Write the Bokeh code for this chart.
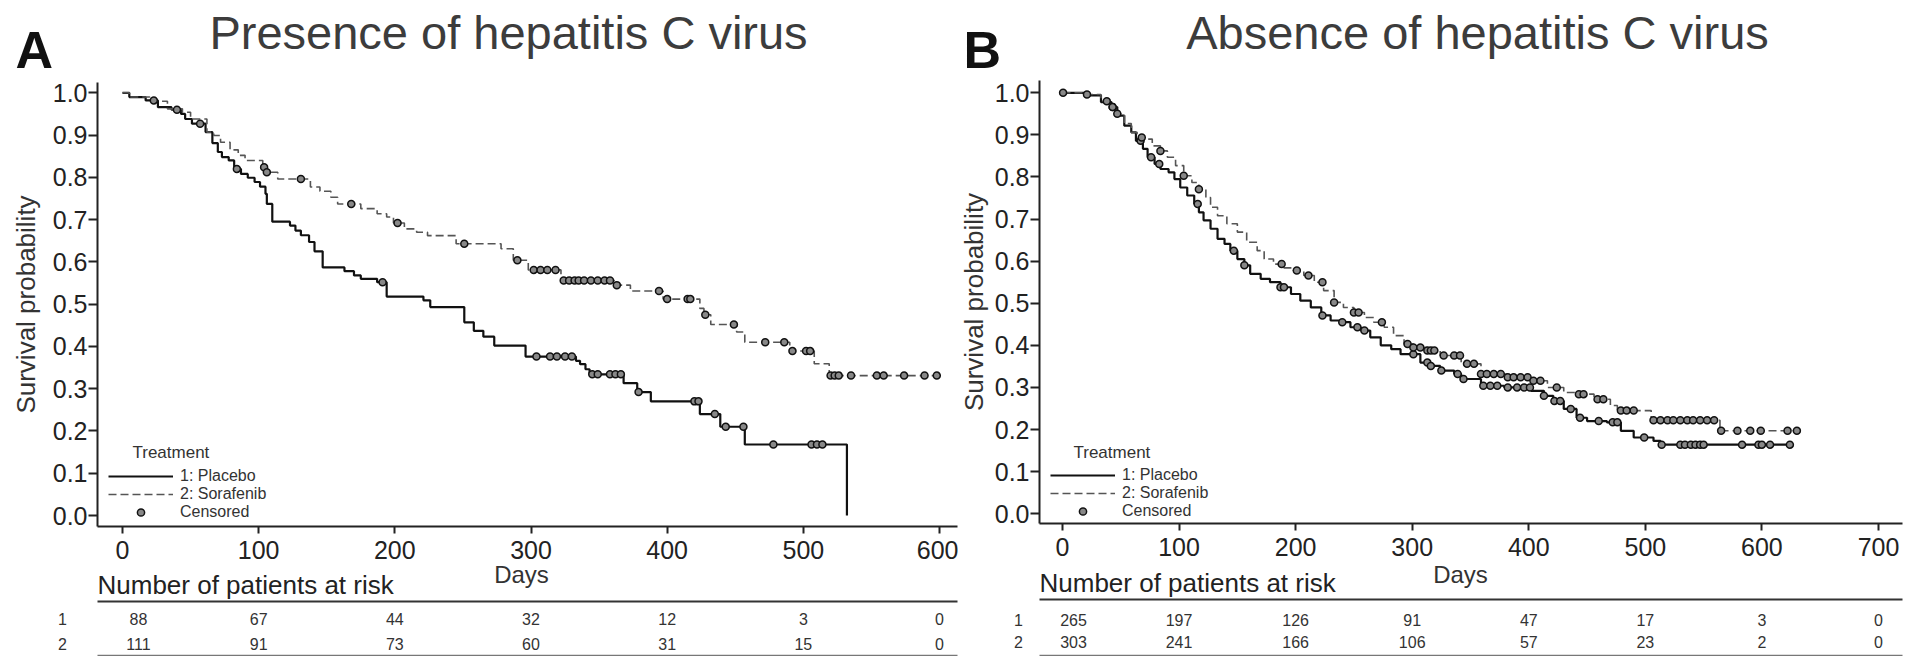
import numpy as np
from bokeh.plotting import figure
from bokeh.layouts import row
from bokeh.models import Range1d, FixedTicker, PrintfTickFormatter, Legend, LegendItem
from bokeh.core.properties import value
from bokeh.embed import file_html
from bokeh.resources import INLINE

FONT = "Liberation Sans"

# ---------------- data ----------------
titles = ["Presence of hepatitis C virus", "Absence of hepatitis C virus"]
letters = ["A", "B"]
x_label = "Days"
y_label = "Survival probability"
legend_title = "Treatment"
legend_labels = ["1: Placebo", "2: Sorafenib", "Censored"]
risk_header = "Number of patients at risk"
row_labels = ["1", "2"]

ticks_a = [0, 100, 200, 300, 400, 500, 600]
risk_a_placebo = [88, 67, 44, 32, 12, 3, 0]
risk_a_sorafenib = [111, 91, 73, 60, 31, 15, 0]

ticks_b = [0, 100, 200, 300, 400, 500, 600, 700]
risk_b_placebo = [265, 197, 126, 91, 47, 17, 3, 0]
risk_b_sorafenib = [303, 241, 166, 106, 57, 23, 2, 0]

y_ticks = [0.0, 0.1, 0.2, 0.3, 0.4, 0.5, 0.6, 0.7, 0.8, 0.9, 1.0]

# Panel A, placebo: event times (days) and survival after each event
a_placebo_t = [0, 5, 17, 26, 36, 43, 46, 51, 61, 66, 70, 73, 78, 82, 87, 92, 97, 101, 105, 106,
               110, 123, 127, 131, 137, 141, 147, 163, 170, 175, 187, 194, 221, 226, 251, 258, 265, 273, 296, 333,
               336, 340, 343, 368, 378, 388, 424, 439, 457, 532]
a_placebo_s = [1.0, 0.990, 0.982, 0.966, 0.960, 0.950, 0.938, 0.927, 0.907, 0.881, 0.860, 0.848, 0.840, 0.820, 0.808, 0.799, 0.789, 0.778, 0.761, 0.737,
               0.695, 0.686, 0.674, 0.663, 0.647, 0.625, 0.587, 0.578, 0.568, 0.560, 0.552, 0.518, 0.509, 0.493, 0.457, 0.437, 0.423, 0.402, 0.376, 0.366,
               0.358, 0.346, 0.334, 0.313, 0.292, 0.270, 0.240, 0.210, 0.168, 0.0]
a_placebo_end = 532
a_placebo_cens = [23, 40, 57, 84, 191, 304, 314, 319, 325, 330, 345, 349, 358, 362, 366, 379, 420, 423,
                  435, 443, 456, 478, 506, 510, 514]

# Panel A, sorafenib
a_sorafenib_t = [0, 5, 20, 33, 44, 50, 62, 67, 72, 79, 85, 90, 103, 105, 114, 138, 145, 153, 158, 175,
                 187, 194, 199, 207, 216, 224, 245, 278, 287, 298, 322, 362, 373, 397, 424, 427, 432, 451, 457, 490,
                 508, 519]
a_sorafenib_s = [1.0, 0.99, 0.98, 0.962, 0.954, 0.938, 0.907, 0.899, 0.883, 0.865, 0.852, 0.840, 0.824, 0.812, 0.796, 0.777, 0.767, 0.753, 0.737, 0.726,
                 0.714, 0.706, 0.692, 0.678, 0.670, 0.662, 0.643, 0.631, 0.604, 0.581, 0.556, 0.545, 0.531, 0.512, 0.49, 0.475, 0.452, 0.434, 0.41, 0.389,
                 0.359, 0.331]
a_sorafenib_end = 598
a_sorafenib_cens = [104, 106, 131, 168, 202, 251, 290, 302, 307, 312, 318, 324, 328, 332, 335, 339, 344, 349, 354, 358,
                    363, 394, 400, 415, 417, 428, 449, 472, 486, 492, 502, 505, 520, 523, 526, 535, 554, 559, 574, 589, 598]

# Panel B, placebo
b_placebo_t = [0, 21, 33, 42, 47, 53, 59, 63, 69, 73, 79, 84, 91, 96, 101, 107, 113, 117, 121, 127,
               133, 139, 144, 150, 156, 161, 170, 178, 187, 196, 204, 213, 222, 230, 239, 247, 256, 264, 273, 282,
               290, 307, 316, 324, 336, 342, 359, 379, 402, 413, 421, 430, 441, 450, 467, 479, 490, 507, 513]
b_placebo_s = [1.0, 0.994, 0.978, 0.966, 0.946, 0.922, 0.906, 0.886, 0.867, 0.847, 0.831, 0.819, 0.811, 0.795, 0.775, 0.756, 0.736, 0.716, 0.697, 0.677,
               0.653, 0.641, 0.625, 0.605, 0.59, 0.57, 0.558, 0.55, 0.538, 0.522, 0.506, 0.49, 0.471, 0.459, 0.455, 0.443, 0.435, 0.419, 0.40, 0.391,
               0.379, 0.359, 0.351, 0.34, 0.332, 0.32, 0.304, 0.30, 0.292, 0.28, 0.268, 0.249, 0.228, 0.22, 0.217, 0.197, 0.181, 0.173, 0.164]
b_placebo_end = 624
b_placebo_cens = [43, 67, 76, 83, 116, 147, 156, 187, 190, 223, 240, 253, 259, 301, 313, 316, 325, 339, 344, 361,
                  367, 373, 382, 390, 396, 401, 413, 422, 427, 436, 444, 460, 472, 476, 499, 514, 530, 534, 539, 543,
                  547, 550, 583, 597, 600, 607, 624]

# Panel B, sorafenib
b_sorafenib_t = [0, 21, 33, 42, 47, 53, 59, 64, 70, 77, 84, 90, 97, 104, 111, 117, 123, 127, 133, 141,
                 150, 158, 167, 173, 181, 190, 198, 207, 216, 224, 233, 241, 250, 259, 267, 276, 284, 293, 301, 313,
                 324, 342, 359, 381, 404, 416, 430, 441, 456, 470, 476, 505, 564]
b_sorafenib_s = [1.0, 0.996, 0.98, 0.966, 0.95, 0.927, 0.906, 0.894, 0.89, 0.874, 0.862, 0.847, 0.827, 0.803, 0.787, 0.771, 0.751, 0.728, 0.708, 0.689,
                 0.669, 0.645, 0.625, 0.605, 0.593, 0.584, 0.578, 0.566, 0.55, 0.53, 0.502, 0.49, 0.478, 0.466, 0.455, 0.443, 0.423, 0.403, 0.395, 0.388,
                 0.376, 0.356, 0.332, 0.324, 0.316, 0.30, 0.288, 0.284, 0.272, 0.257, 0.245, 0.222, 0.197]
b_sorafenib_end = 630
b_sorafenib_cens = [0.5, 21, 38, 43, 47, 68, 84, 104, 117, 188, 201, 211, 223, 233, 250, 254, 274, 296, 301, 307,
                    313, 316, 319, 327, 336, 341, 347, 353, 359, 364, 370, 376, 382, 387, 393, 399, 404, 410, 424, 443,
                    447, 459, 464, 479, 484, 490, 507, 513, 519, 524, 530, 536, 541, 547, 553, 559, 565, 579, 590, 599,
                    622, 630]

# ---------------- layout geometry (page pixels) ----------------
PAGE_H = 656
MID = 0.3465   # 'middle' anchor sits this many font-sizes above the baseline

GEOM = {
    "A": dict(cx=0, w=958, fl=97, fr=957, ft=82, fb=526, x0=122.0, xs=1.3617, y0=515.0, ys=422.7,
              letter_x=15, title_cx=508, treat_x=132, days_cx=521, head_base=594, uline=601, rows=(618, 643),
              rowlab_x=62, first_off=16, legend_x=108, legend_bottom=521.3, ylab_standoff=9, bline=655),
    "B": dict(cx=958, w=959, fl=1039, fr=1902, ft=80, fb=523, x0=1062.0, xs=1.1657, y0=513.2, ys=420.9,
              letter_x=963, title_cx=1477, treat_x=1073, days_cx=1460, head_base=592, uline=599, rows=(619, 641),
              rowlab_x=1018, first_off=11, legend_x=1050, legend_bottom=520.3, ylab_standoff=3, bline=655),
}


def km_y(t, s, q):
    t = np.asarray(t, dtype=float)
    s = np.asarray(s, dtype=float)
    idx = np.searchsorted(t, np.asarray(q, dtype=float), side="right") - 1
    return s[idx]


def make_panel(key, title, letter, ticks, risk1, risk2, pl, so):
    g = GEOM[key]
    dx = lambda px: (px - g["x0"]) / g["xs"]
    dy = lambda py: (g["y0"] - py) / g["ys"]

    def txt(p, x_px, base_px, s, size, color="#333333", align="left", style="normal"):
        p.text(x=[dx(x_px)], y=[dy(base_px - MID * size)], text=[s],
               text_font=value(FONT), text_font_size=f"{size}px", text_font_style=style,
               text_color=color, text_align=align, text_baseline="middle")

    p = figure(width=g["w"], height=PAGE_H,
               x_range=Range1d(dx(g["cx"]), dx(g["cx"] + g["w"])),
               y_range=Range1d(dy(PAGE_H), dy(0)),
               min_border_left=0, min_border_right=0, min_border_top=0, min_border_bottom=0,
               output_backend="svg", toolbar_location=None)
    p.title.visible = False
    p.outline_line_color = None
    p.background_fill_color = "white"
    p.border_fill_color = "white"
    p.grid.visible = False

    # axes drawn at the reference frame edges
    p.xaxis.fixed_location = dy(g["fb"])
    p.xaxis.bounds = (dx(g["fl"]), dx(g["fr"]))
    p.yaxis.fixed_location = dx(g["fl"])
    p.yaxis.bounds = (dy(g["fb"]), dy(g["ft"]))
    p.xaxis.ticker = FixedTicker(ticks=ticks)
    p.yaxis.ticker = FixedTicker(ticks=y_ticks)
    p.yaxis.formatter = PrintfTickFormatter(format="%.1f")
    for ax in (p.xaxis[0], p.yaxis[0]):
        ax.axis_line_width = 2
        ax.axis_line_color = "#222222"
        ax.major_tick_line_width = 2
        ax.major_tick_line_color = "#222222"
        ax.minor_tick_line_color = None
        ax.major_tick_in = 0
        ax.major_label_text_font = FONT
        ax.major_label_text_font_size = "25px"
        ax.major_label_text_color = "#222222"
        ax.axis_label_text_font = FONT
        ax.axis_label_text_font_style = "normal"
        ax.axis_label_text_color = "#333333"
    p.xaxis.major_tick_out = 7
    p.xaxis.major_label_standoff = 7
    p.yaxis.major_tick_out = 9
    p.yaxis.major_label_standoff = 1
    p.yaxis.axis_label = y_label
    p.yaxis.axis_label_text_font_size = "26px"
    p.yaxis.axis_label_standoff = g["ylab_standoff"]

    # curves
    (pt, ps, pend, pc), (st, ss, send, sc) = pl, so
    r_pl = p.step(list(pt) + [pend], list(ps) + [ps[-1]], mode="after",
                  line_color="#111111", line_width=2.2)
    r_so = p.step(list(st) + [send], list(ss) + [ss[-1]], mode="after",
                  line_color="#555555", line_width=1.6, line_dash="8 4")
    r_c1 = p.scatter(pc, km_y(pt, ps, pc), marker="circle", size=7,
                     fill_color="#888888", line_color="#111111", line_width=1.5)
    p.scatter(sc, km_y(st, ss, sc), marker="circle", size=7,
              fill_color="#888888", line_color="#111111", line_width=1.5)

    legend = Legend(items=[LegendItem(label=legend_labels[0], renderers=[r_pl]),
                           LegendItem(label=legend_labels[1], renderers=[r_so]),
                           LegendItem(label=legend_labels[2], renderers=[r_c1])],
                    location=(g["legend_x"] - g["cx"], PAGE_H - g["legend_bottom"]),
                    orientation="vertical",
                    glyph_width=65, glyph_height=18, label_height=18, label_standoff=7,
                    spacing=0, padding=0, margin=0, border_line_color=None,
                    background_fill_alpha=0,
                    label_text_font=FONT, label_text_font_size="16px", label_text_color="#333333")
    p.add_layout(legend)
    txt(p, g["treat_x"], 458, legend_title, 17)

    # panel letter and title
    txt(p, g["letter_x"], 68, letter, 52, color="#111111", style="bold")
    txt(p, g["title_cx"], 48, title, 47, color="#3c3c3c", align="center")

    # x-axis title
    txt(p, g["days_cx"], 582, x_label, 24, align="center")

    # number-at-risk table
    txt(p, g["fl"], g["head_base"], risk_header, 26, color="#222222")
    p.segment(x0=[dx(g["fl"])], y0=[dy(g["uline"])], x1=[dx(g["fr"])], y1=[dy(g["uline"])],
              line_color="#333333", line_width=2)
    p.segment(x0=[dx(g["fl"])], y0=[dy(g["bline"])], x1=[dx(g["fr"])], y1=[dy(g["bline"])],
              line_color="#777777", line_width=1.5)
    for lab, ry, vals in zip(row_labels, g["rows"], (risk1, risk2)):
        p.text(x=[dx(g["rowlab_x"])], y=[dy(ry)], text=[lab], text_font=value(FONT), text_font_size="16px",
               text_color="#333333", text_align="center", text_baseline="middle")
        offs = [g["first_off"]] + [0] * (len(ticks) - 1)
        p.text(x=ticks, y=[dy(ry)] * len(ticks), text=[str(v) for v in vals], x_offset=offs,
               text_font=value(FONT), text_font_size="16px", text_color="#333333",
               text_align="center", text_baseline="middle")
    return p


pA = make_panel("A", titles[0], letters[0], ticks_a, risk_a_placebo, risk_a_sorafenib,
                (a_placebo_t, a_placebo_s, a_placebo_end, a_placebo_cens),
                (a_sorafenib_t, a_sorafenib_s, a_sorafenib_end, a_sorafenib_cens))
pB = make_panel("B", titles[1], letters[1], ticks_b, risk_b_placebo, risk_b_sorafenib,
                (b_placebo_t, b_placebo_s, b_placebo_end, b_placebo_cens),
                (b_sorafenib_t, b_sorafenib_s, b_sorafenib_end, b_sorafenib_cens))

layout = row(pA, pB, spacing=0)
open("out.html", "w").write(file_html(layout, INLINE))
